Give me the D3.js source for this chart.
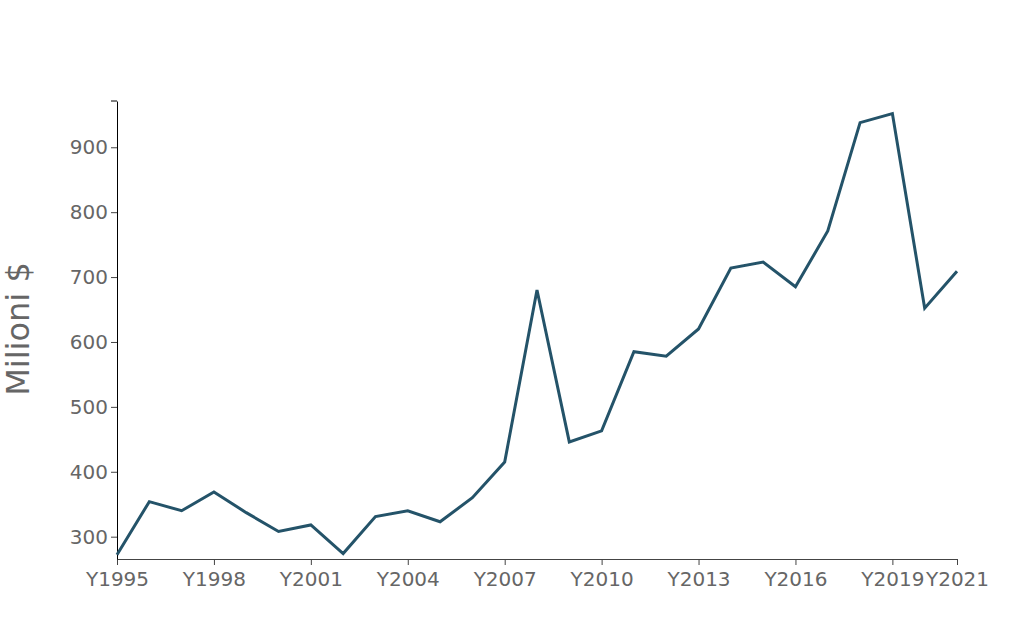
<!DOCTYPE html>
<html><head><meta charset="utf-8">
<script src="https://cdn.jsdelivr.net/npm/d3@7"></script>
<style>body{margin:0;background:#fff}svg{display:block}</style>
</head><body>
<svg id="c" width="1019" height="618"></svg>
<script>
const years = [1995,1996,1997,1998,1999,2000,2001,2002,2003,2004,2005,2006,2007,2008,2009,2010,2011,2012,2013,2014,2015,2016,2017,2018,2019,2020,2021];
const values = [272,354,340,369,337,308,318,274,331,340,323,360,415,680,446,463,585,578,620,714,723,685,771,938,952,652,709];
const xTicks = [1995,1998,2001,2004,2007,2010,2013,2016,2019,2021];
const yTicks = [300,400,500,600,700,800,900];
const yTitle = "Milioni $";

const W=1019,H=618, m={l:117,r:62,t:101,b:59};
const svg=d3.select("#c");
const x=d3.scaleLinear().domain([1995,2021]).range([m.l,W-m.r]);
const y=d3.scaleLinear().domain([265.6,971.3]).range([H-m.b,m.t]);

const font="DejaVu Sans";
const fs=20;
const gx=svg.append("g").attr("transform",`translate(0,${H-m.b})`)
  .call(d3.axisBottom(x).tickValues(xTicks).tickFormat(d=>"Y"+d).tickSize(6).tickSizeOuter(0));
gx.attr("font-size",null).attr("font-family",null);
gx.select(".domain").attr("stroke","#444");
gx.selectAll(".tick line").attr("stroke","#444");
gx.selectAll("text").style("font-family",font).style("font-size",fs+"px").attr("fill","#666").attr("y",8).attr("dy","0.95em");

const gy=svg.append("g").attr("transform",`translate(${m.l},0)`)
  .call(d3.axisLeft(y).tickValues(yTicks).tickSize(6).tickSizeOuter(0));
gy.attr("font-size",null).attr("font-family",null);
gy.select(".domain").attr("stroke","#000");
gy.selectAll(".tick line").attr("stroke","#444");
gy.selectAll("text").style("font-family",font).style("font-size",fs+"px").attr("fill","#666").attr("x",-9);
gy.append("line").attr("x1",-6).attr("x2",0).attr("y1",m.t).attr("y2",m.t).attr("stroke","#000");

svg.append("text").attr("transform",`translate(29,${(265+393)/2}) rotate(-90)`)
  .attr("text-anchor","middle").style("font-family",font).style("font-size","32px").attr("fill","#666").text(yTitle);

const line=d3.line().x((d,i)=>x(years[i])).y(d=>y(d));
svg.append("path").datum(values).attr("d",line).attr("fill","none")
  .attr("stroke","#245369").attr("stroke-width",3).attr("stroke-linejoin","miter");
</script>
</body></html>
